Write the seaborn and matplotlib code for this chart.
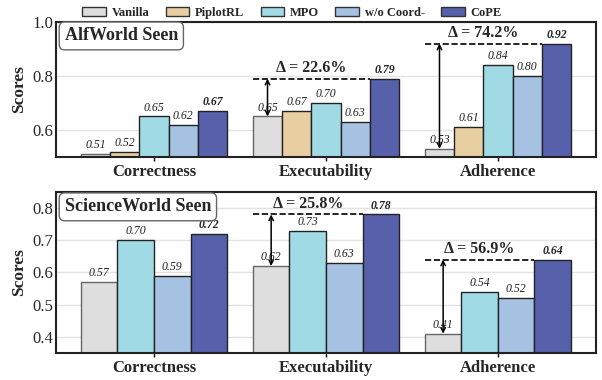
import pandas as pd
import numpy as np
import matplotlib.pyplot as plt
import seaborn as sns
from matplotlib.patches import Patch

# ==========================================
# DADOS
# ==========================================
metricas = ['Correctness', 'Executability', 'Adherence']

metodos_alf = ['Vanilla', 'PiplotRL', 'MPO', 'w/o Coord-', 'CoPE']
alf_vanilla = [0.51, 0.65, 0.53]
alf_piplot = [0.52, 0.67, 0.61]
alf_mpo = [0.65, 0.70, 0.84]
alf_wo = [0.62, 0.63, 0.80]
alf_cope = [0.67, 0.79, 0.92]
alf_deltas = [None, '22.6%', '74.2%']

metodos_sci = ['Vanilla', 'MPO', 'w/o Coord-', 'CoPE']
sci_vanilla = [0.57, 0.62, 0.41]
sci_mpo = [0.70, 0.73, 0.54]
sci_wo = [0.59, 0.63, 0.52]
sci_cope = [0.72, 0.78, 0.64]
sci_deltas = [None, '25.8%', '56.9%']

cores = {
    'Vanilla': '#DEDEDE',
    'PiplotRL': '#E8CFA2',
    'MPO': '#A0DBE5',
    'w/o Coord-': '#A6C2E3',
    'CoPE': '#5760AA',
}


def montar_df(metodos, series):
    linhas = []
    for m, vals in zip(metodos, series):
        for met, v in zip(metricas, vals):
            linhas.append({'Metrica': met, 'Metodo': m, 'Score': v})
    return pd.DataFrame(linhas)


df_alf = montar_df(metodos_alf, [alf_vanilla, alf_piplot, alf_mpo, alf_wo, alf_cope])
df_sci = montar_df(metodos_sci, [sci_vanilla, sci_mpo, sci_wo, sci_cope])

# ==========================================
# ESTILO
# ==========================================
sns.set_theme(style='whitegrid')
plt.rcParams['font.family'] = ['Liberation Serif', 'DejaVu Serif']

fig = plt.figure(figsize=(6.02, 3.8), dpi=100)
ax_top = fig.add_axes([0.093, 0.587, 0.897, 0.355])
ax_bot = fig.add_axes([0.093, 0.071, 0.897, 0.424])


def desenhar(ax, df, metodos, ylim, yticks, titulo, deltas):
    sns.barplot(data=df, x='Metrica', y='Score', hue='Metodo', order=metricas,
                hue_order=metodos, palette=cores, width=0.85, edgecolor='#222222',
                linewidth=1.0, saturation=1, errorbar=None, legend=False, ax=ax)
    # bordas do Vanilla mais claras
    for p in ax.containers[0]:
        p.set_edgecolor('#666666')
    ax.set_ylim(*ylim)
    ax.set_xlim(-0.57, 2.57)
    ax.set_yticks(yticks)
    ax.set_yticklabels([f'{t:.1f}' for t in yticks], fontsize=12)
    ax.set_xlabel('')
    ax.set_ylabel('Scores', fontsize=12.5, fontweight='bold', labelpad=4)
    ax.set_xticks(range(len(metricas)))
    ax.set_xticklabels(metricas, fontsize=12, fontweight='bold')
    ax.tick_params(axis='x', length=3, width=1, color='black', pad=2, bottom=True)
    ax.tick_params(axis='y', length=0, pad=2)
    ax.grid(axis='x', visible=False)
    ax.grid(axis='y', color='#E3E3E3', linewidth=1)
    ax.set_axisbelow(True)
    for s in ax.spines.values():
        s.set_color('#222222')
        s.set_linewidth(1.5)

    # rótulos nas barras
    for i, cont in enumerate(ax.containers):
        negrito = metodos[i] == 'CoPE'
        ax.bar_label(cont, fmt='%.2f', padding=2, fontsize=8.5, fontstyle='italic',
                     fontweight='bold' if negrito else 'normal', color='#222222')

    # caixa do título
    ax.text(0.016, 0.96, titulo, transform=ax.transAxes, ha='left', va='top',
            fontsize=13, fontweight='bold',
            bbox=dict(boxstyle='round,pad=0.3', fc='white', ec='#666666', lw=1))

    # anotações de delta
    base = ax.containers[0]
    top = ax.containers[-1]
    for j, d in enumerate(deltas):
        if d is None:
            continue
        pb = base[j]
        pt = top[j]
        x0 = pb.get_x()
        xc = pb.get_x() + pb.get_width() / 2
        x1 = pt.get_x()
        y_top = pt.get_height()
        y_base = pb.get_height()
        ax.plot([x0, x1], [y_top, y_top], ls='--', color='black', lw=1.2, zorder=5)
        ax.annotate('', xy=(xc, y_base), xytext=(xc, y_top),
                    arrowprops=dict(arrowstyle='<->', color='black', lw=1.1,
                                    shrinkA=0, shrinkB=0, mutation_scale=8), zorder=5)
        ax.annotate('Δ = ' + d, xy=((x0 + x1) / 2, y_top), xytext=(0, 2),
                    textcoords='offset points', ha='center', va='bottom',
                    fontsize=11.5, fontweight='bold')


desenhar(ax_top, df_alf, metodos_alf, (0.5, 1.0), [0.6, 0.8, 1.0], 'AlfWorld Seen', alf_deltas)
desenhar(ax_bot, df_sci, metodos_sci, (0.35, 0.85), [0.4, 0.5, 0.6, 0.7, 0.8],
         'ScienceWorld Seen', sci_deltas)

# legenda no topo
handles = [Patch(facecolor=cores[m], edgecolor='#333333', lw=1) for m in metodos_alf]
leg = fig.legend(handles, metodos_alf, loc='center', bbox_to_anchor=(0.485, 0.967),
                 ncol=5, frameon=False, prop={'weight': 'bold', 'size': 9},
                 columnspacing=1.3, handlelength=1.9, handleheight=0.75, handletextpad=0.45,
                 borderpad=0)

plt.savefig('out.png', dpi=100)
